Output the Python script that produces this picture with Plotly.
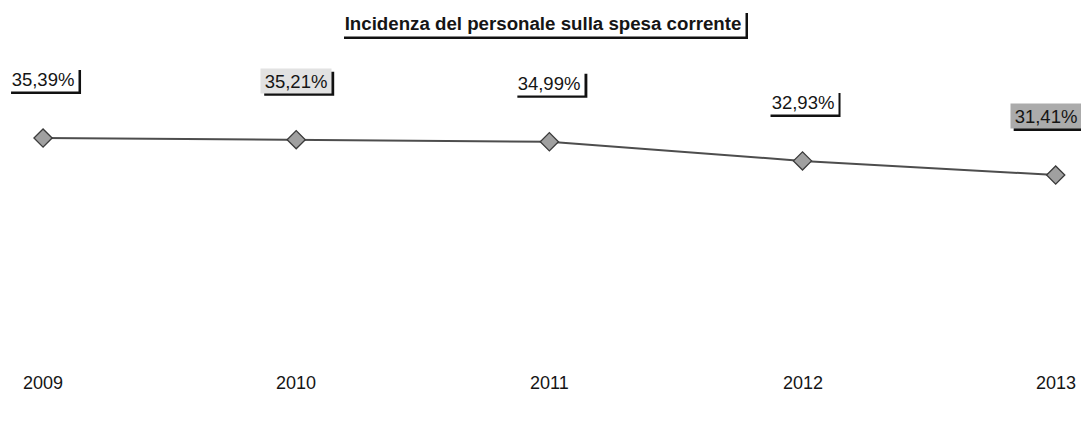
import plotly.graph_objects as go

years = [2009, 2010, 2011, 2012, 2013]
values = [35.39, 35.21, 34.99, 32.93, 31.41]
labels = ["35,39%", "35,21%", "34,99%", "32,93%", "31,41%"]
label_fills = ["white", "#e2e2e2", "white", "white", "#ababab"]
title = "Incidenza del personale sulla spesa corrente"

W, H = 1081, 423
FONT = "Liberation Sans, Arial, sans-serif"
TXT = "#151515"

fig = go.Figure()
fig.add_trace(go.Scatter(
    x=years, y=values, mode="lines+markers",
    line=dict(color="#4d4d4d", width=2),
    marker=dict(symbol="diamond", size=14, color="#a0a0a0",
                line=dict(color="#3a3a3a", width=1.3)),
    hoverinfo="skip", showlegend=False,
))

BW, BH, LIFT, SH = 70, 24, 59, 3
annotations, shapes = [], []
for i, (yr, v, lab, fill) in enumerate(zip(years, values, labels, label_fills)):
    dx = -10 if i == len(years) - 1 else 0
    shapes.append(dict(type="rect", xref="x", yref="y", xsizemode="pixel", ysizemode="pixel",
                       xanchor=yr, yanchor=v,
                       x0=dx - BW / 2 + SH, x1=dx + BW / 2 + SH,
                       y0=LIFT - BH / 2 - SH, y1=LIFT + BH / 2 - SH,
                       fillcolor="#111111", line=dict(width=0), layer="above"))
    annotations.append(dict(text=lab, x=yr, y=v, xref="x", yref="y", showarrow=False,
                            xanchor="center", yanchor="middle",
                            xshift=dx, yshift=LIFT, width=BW, height=BH, borderpad=0,
                            bgcolor=fill, font=dict(family=FONT, size=18.5, color=TXT)))
    annotations.append(dict(text=str(yr), x=yr, xref="x", y=1 - 383 / H, yref="paper",
                            xanchor="center", yanchor="middle",
                            showarrow=False, font=dict(family=FONT, size=18, color=TXT)))

# title box with drop shadow
TW, TH = 404, 26
tx, ty = 543 / W, 1 - 23 / H
shapes.append(dict(type="rect", xref="paper", yref="paper", xsizemode="pixel", ysizemode="pixel",
                   xanchor=tx, yanchor=ty,
                   x0=-TW / 2 + SH, x1=TW / 2 + SH, y0=-TH / 2 - SH, y1=TH / 2 - SH,
                   fillcolor="#111111", line=dict(width=0), layer="above"))
annotations.append(dict(text="<b>" + title + "</b>", x=tx, xref="paper", y=ty, yref="paper",
                        xanchor="center", yanchor="middle",
                        showarrow=False, width=TW, height=TH, borderpad=0, bgcolor="white",
                        font=dict(family=FONT, size=18.7, color=TXT)))

fig.update_layout(
    width=W, height=H,
    margin=dict(l=0, r=0, t=0, b=0),
    paper_bgcolor="white", plot_bgcolor="white",
    xaxis=dict(range=[2008.83, 2013.10], visible=False),
    yaxis=dict(range=[4.75, 50.23], visible=False),
    annotations=annotations, shapes=shapes,
)
fig.write_html("out.html", config={"displayModeBar": False},
               post_script="document.body.style.margin='0';")
